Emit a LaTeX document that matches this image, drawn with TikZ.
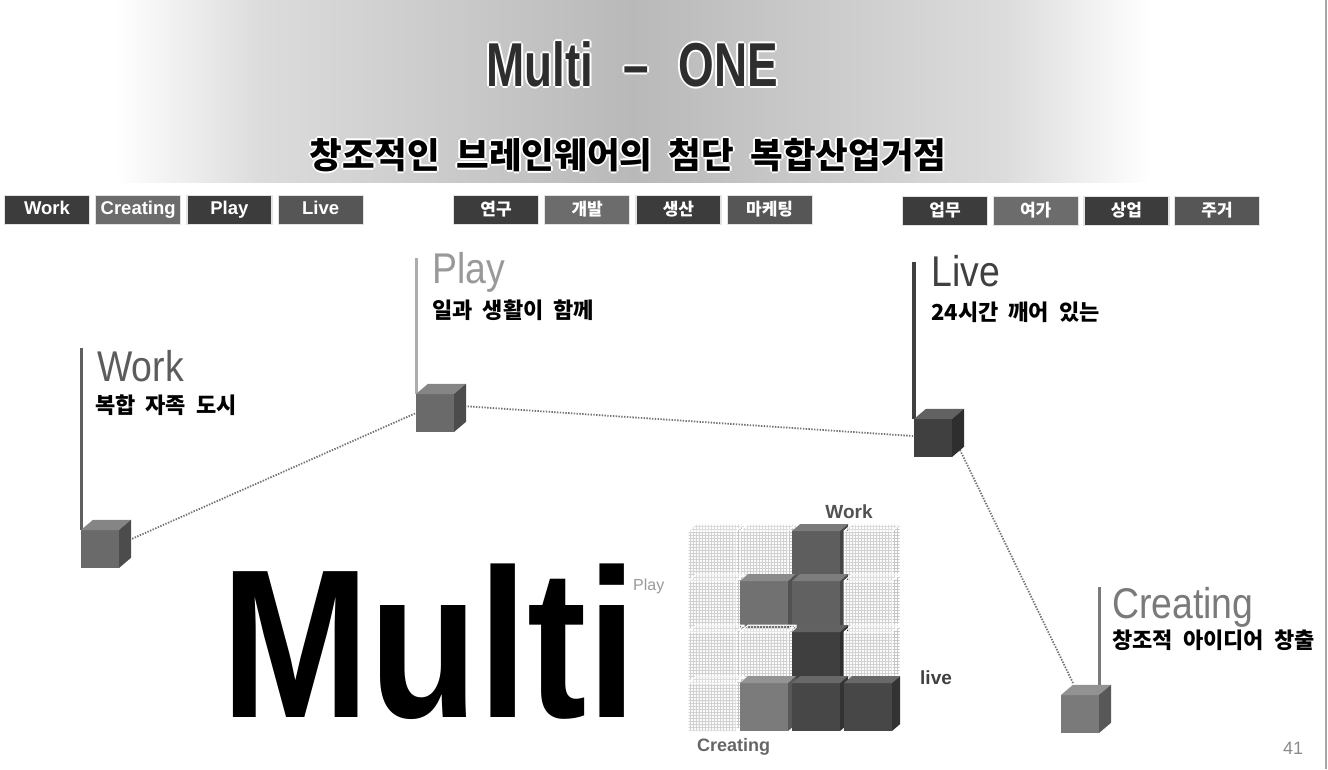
\documentclass[tikz,border=0pt]{standalone}
\usepackage{fontspec}
\setmainfont{Liberation Sans}
\newfontfamily\narrowfont{Liberation Sans}[FakeStretch=0.87]
\newfontfamily\titlefont{Liberation Sans}[FakeStretch=0.74]
\newfontfamily\krfont{Noto Sans CJK KR}
\usetikzlibrary{patterns,positioning}

% 色の定義
\definecolor{tabdark}{HTML}{3C3C3C}
\definecolor{tabmid}{HTML}{6C6C6C}
\definecolor{tabgray}{HTML}{565656}
\definecolor{bandedge}{HTML}{DCDCDC}
\definecolor{bandmid}{HTML}{B9B9B9}
\definecolor{workgray}{HTML}{6A6A6A}
\definecolor{playgray}{HTML}{999999}
\definecolor{livegray}{HTML}{404040}
\definecolor{creatgray}{HTML}{7A7A7A}
\definecolor{blocktop}{HTML}{5E5E5E}
\definecolor{blockmid}{HTML}{717171}
\definecolor{blockcore}{HTML}{616161}
\definecolor{blockdark}{HTML}{3F3F3F}
\definecolor{blocklight}{HTML}{7B7B7B}
\definecolor{blockdeep}{HTML}{474747}

\pgfdeclarehorizontalshading{titleband}{100bp}{color(0bp)=(white); color(25bp)=(white);
  color(32bp)=(bandedge); color(50bp)=(bandmid); color(68bp)=(bandedge);
  color(75bp)=(white); color(100bp)=(white)}

% 文字のまわりに同じ文字を重ねる (色, ずらし幅, 文字)
\newcommand{\halotext}[3]{\makebox[0pt][l]{\color{#1}%
  \makebox[0pt][l]{\hspace*{-#2}#3}\makebox[0pt][l]{\hspace*{#2}#3}%
  \makebox[0pt][l]{\raisebox{#2}{#3}}\makebox[0pt][l]{\raisebox{-#2}{#3}}%
  \makebox[0pt][l]{\hspace*{0.7#2}\raisebox{0.7#2}{#3}}\makebox[0pt][l]{\hspace*{-0.7#2}\raisebox{0.7#2}{#3}}%
  \makebox[0pt][l]{\hspace*{0.7#2}\raisebox{-0.7#2}{#3}}\makebox[0pt][l]{\hspace*{-0.7#2}\raisebox{-0.7#2}{#3}}}#3}

% 立方体 (正面左上 x, y, 幅, 奥行き, 色)
\newcommand{\solidcube}[5]{%
  \fill[#5] (#1,#2) rectangle ++(#3,#3);
  \fill[#5!82!white] (#1,#2) -- ++(#4,-0.85*#4) -- ++(#3,0) -- ++(-#4,0.85*#4) -- cycle;
  \fill[#5!72!black] (#1+#3,#2) -- ++(#4,-0.85*#4) -- ++(0,#3) -- ++(-#4,0.85*#4) -- cycle;
}
% 網目の立方体
\newcommand{\meshcube}[4]{%
  \path[fill=gray!4] (#1,#2) rectangle ++(#3,#3);
  \path[pattern=grid, pattern color=gray!36] (#1,#2) rectangle ++(#3,#3);
  \path[pattern=grid, pattern color=gray!28] (#1,#2) -- ++(#4,-0.85*#4) -- ++(#3,0) -- ++(-#4,0.85*#4) -- cycle;
  \path[pattern=grid, pattern color=gray!45] (#1+#3,#2) -- ++(#4,-0.85*#4) -- ++(0,#3) -- ++(-#4,0.85*#4) -- cycle;
  \draw[white, line width=1pt] (#1,#2) rectangle ++(#3,#3)
    (#1,#2) -- ++(#4,-0.85*#4) -- ++(#3,0) -- ++(0,#3) -- ++(-#4,0.85*#4)
    (#1+#3,#2) -- ++(#4,-0.85*#4);
}

\tikzset{
  tab/.style={draw=gray!22, line width=1.2pt, minimum width=85pt, minimum height=29pt,
    inner sep=0pt, text height=13pt, text depth=3.5pt, text=white,
    font=\fontsize{18.5}{18.5}\selectfont\bfseries},
  krtab/.style={tab, text height=14pt, text depth=2.5pt, font=\krfont\fontsize{17}{17}\selectfont\bfseries},
  big/.style={anchor=base west, inner sep=0pt, font=\narrowfont\fontsize{43}{43}\selectfont},
  sub/.style={anchor=base west, inner sep=0pt, font=\krfont\fontsize{22}{22}\selectfont\bfseries},
  axis/.style={inner sep=0pt, font=\fontsize{19}{19}\selectfont\bfseries},
  link/.style={draw=black!55, line width=1.8pt, dash pattern=on 1.4pt off 1.4pt},
  pole/.style={line width=3pt}
}

\begin{document}
\begin{tikzpicture}[x=1pt,y=-1pt]
  \useasboundingbox (0,0) rectangle (1328,769);
  % 題目の帯
  \shade[shading=titleband] (115,0) rectangle (1150,182);
  \node[anchor=base, inner sep=0pt, text=black!82, font=\titlefont\fontsize{62}{62}\selectfont\bfseries]
    (title) at (632,86) {\halotext{white}{2pt}{Multi \;–\; ONE}};
  \node[anchor=base, inner sep=0pt, font=\krfont\fontsize{35.5}{35.5}\selectfont\bfseries]
    (subtitle) at (628,168) {\halotext{white}{2pt}{창조적인\ \ 브레인웨어의\ \ 첨단\ \ 복합산업거점}};
  \draw[gray!70, line width=1.5pt] (1326,0) -- (1326,769);

  % 見出しのタブ
  \node[tab, fill=tabdark] (tabwork) at (47,210) {Work};
  \node[tab, fill=tabmid, right=5pt of tabwork] (tabcreat) {Creating};
  \node[tab, fill=tabdark, right=5pt of tabcreat] (tabplay) {Play};
  \node[tab, fill=tabgray, right=5pt of tabplay] (tablive) {Live};
  \node[krtab, fill=tabdark] (tabres) at (496,210) {연구};
  \node[krtab, fill=tabmid, right=5pt of tabres] (tabdev) {개발};
  \node[krtab, fill=tabdark, right=5pt of tabdev] (tabprod) {생산};
  \node[krtab, fill=tabgray, right=5pt of tabprod] (tabmkt) {마케팅};
  \node[krtab, fill=tabdark] (tabbiz) at (945,211) {업무};
  \node[krtab, fill=tabmid, right=4.5pt of tabbiz] (tabfree) {여가};
  \node[krtab, fill=tabdark, right=4.5pt of tabfree] (tabshop) {상업};
  \node[krtab, fill=tabgray, right=4.5pt of tabshop] (tabhome) {주거};

  % 点の定義
  \coordinate (worktop) at (81,348);
  \coordinate (workcube) at (81,530);
  \coordinate (workout) at (127,541);
  \coordinate (playtop) at (416,258);
  \coordinate (playcube) at (416,394);
  \coordinate (playin) at (416,413);
  \coordinate (playout) at (462,406);
  \coordinate (livetop) at (914,262);
  \coordinate (livecube) at (914,419);
  \coordinate (livein) at (913,436);
  \coordinate (liveout) at (960,450);
  \coordinate (creattop) at (1099,587);
  \coordinate (creatcube) at (1099,695);
  \coordinate (creatin) at (1073,683);

  % 点線の描画
  \draw[link] (workout) -- (playin);
  \draw[link] (playout) -- (livein);
  \draw[link] (liveout) -- (creatin);

  % 縦線の描画
  \draw[pole, draw=workgray!90!black] (worktop) -- (workcube);
  \draw[pole, draw=playgray!80!white] (playtop) -- (playcube);
  \draw[pole, draw=livegray, line width=3.5pt] (livetop) -- (livecube);
  \draw[pole, draw=creatgray] (creattop) -- (creatcube);

  % 立方体の描画
  \solidcube{81}{530}{38}{12}{workgray}
  \solidcube{416}{394}{38}{12}{workgray}
  \solidcube{914}{419}{38}{12}{livegray}
  \solidcube{1061}{695}{38}{12}{creatgray}

  % 見出しの文字
  \node[big, text=black!64] (worklabel) at (97,381) {Work};
  \node[sub] (worksub) at (95,413) {복합\ \ 자족\ \ 도시};
  \node[big, text=playgray] (playlabel) at (432,283) {Play};
  \node[sub] (playsub) at (432,318) {일과\ \ 생활이\ \ 함께};
  \node[big, text=livegray] (livelabel) at (931,286) {Live};
  \node[sub] (livesub) at (931,320) {24시간\ \ 깨어\ \ 있는};
  \node[big, text=creatgray] (creatlabel) at (1112,618) {Creating};
  \node[sub] (creatsub) at (1112,648) {창조적\ \ 아이디어\ \ 창출};

  % Multi の文字
  \node[anchor=base west, inner sep=0pt] (multi) at (221,717)
    {\scalebox{0.84}[1]{\fontsize{212}{212}\selectfont\bfseries Multi}};
  \node[anchor=base west, inner sep=0pt, text=playgray, font=\fontsize{16}{16}\selectfont]
    (multiplay) at (633,590) {Play};

  % 積み木の描画 (上の段から)
  \meshcube{688}{531}{48}{8}
  \meshcube{740}{531}{48}{8}
  \solidcube{792}{531}{48}{8}{blocktop}
  \meshcube{844}{531}{48}{8}
  \meshcube{688}{581}{48}{8}
  \solidcube{740}{581}{48}{8}{blockmid}
  \solidcube{792}{581}{48}{8}{blockcore}
  \meshcube{844}{581}{48}{8}
  \meshcube{688}{632}{48}{8}
  \meshcube{740}{632}{48}{8}
  \solidcube{792}{632}{48}{8}{blockdark}
  \meshcube{844}{632}{48}{8}
  \meshcube{688}{683}{48}{8}
  \solidcube{740}{683}{48}{8}{blocklight}
  \solidcube{792}{683}{48}{8}{blockdeep}
  \solidcube{844}{683}{48}{8}{blockdeep}
  \node[axis, anchor=base, text=black!68] (axiswork) at (849,518) {Work};
  \node[axis, anchor=base west, text=black!75] (axislive) at (920,684) {live};
  \node[axis, anchor=base west, text=black!60, font=\fontsize{18}{18}\selectfont\bfseries]
    (axiscreat) at (697,751) {Creating};

  % ページ番号
  \node[anchor=base west, inner sep=0pt, text=black!45, font=\fontsize{18}{18}\selectfont]
    (pagenum) at (1283,754) {41};
\end{tikzpicture}
\end{document}
